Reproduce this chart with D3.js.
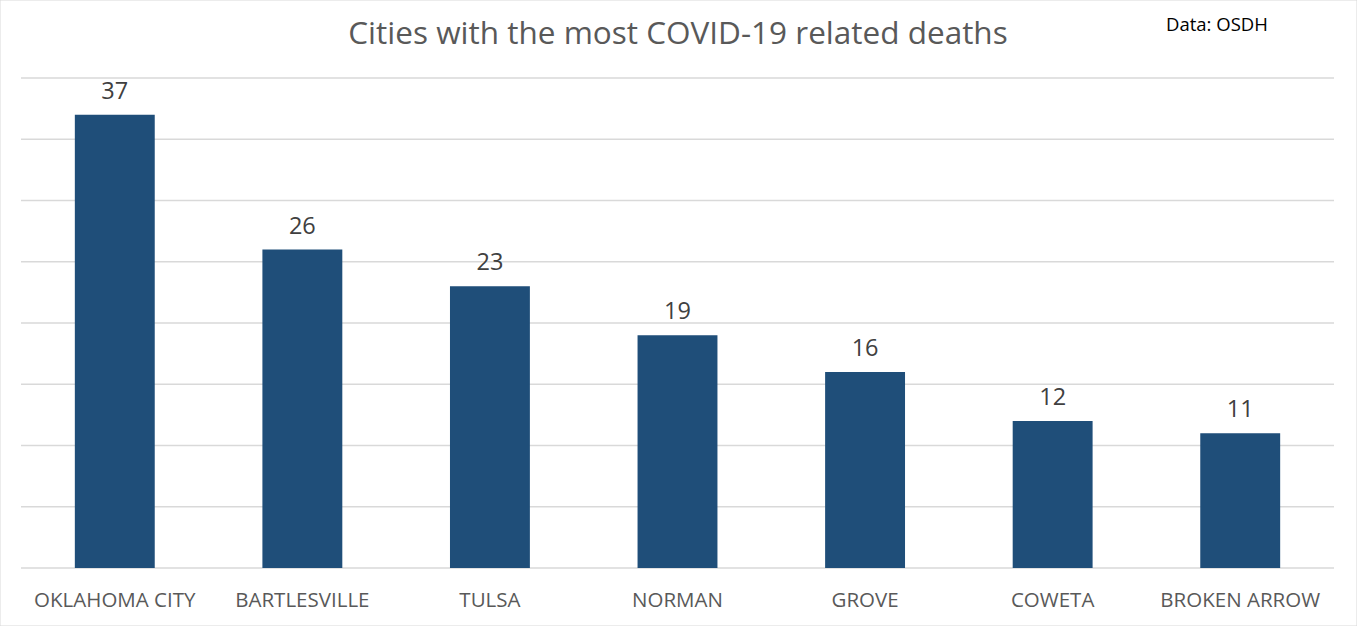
<!DOCTYPE html>
<html>
<head>
<meta charset="utf-8">
<script src="https://cdn.jsdelivr.net/npm/d3@7"></script>
<style>
  body { margin: 0; background: #fff; }
  svg { display: block; }
</style>
</head>
<body>
<script>
// cities and death counts (OSDH)
var cities = ["OKLAHOMA CITY", "BARTLESVILLE", "TULSA", "NORMAN", "GROVE", "COWETA", "BROKEN ARROW"];
var deaths = [37, 26, 23, 19, 16, 12, 11];
var yTicks = [0, 5, 10, 15, 20, 25, 30, 35, 40];

var width = 1357, height = 626;
var font = "'Open Sans', 'Noto Sans', sans-serif";

var svg = d3.select("body").append("svg")
  .attr("width", width)
  .attr("height", height);

svg.append("rect")
  .attr("width", width).attr("height", height)
  .attr("fill", "#fff")
  .attr("stroke", "#d9d9d9");

var x = d3.scaleBand()
  .domain(cities)
  .range([21, 1334])
  .paddingInner(0.574)
  .paddingOuter(0.287);

var y = d3.scaleLinear()
  .domain([0, 40])
  .range([568, 78]);

// gridlines
svg.append("g").selectAll("line")
  .data(yTicks)
  .enter().append("line")
    .attr("x1", 21).attr("x2", 1334)
    .attr("y1", function(d) { return y(d); })
    .attr("y2", function(d) { return y(d); })
    .attr("stroke", "#d9d9d9")
    .attr("stroke-width", 1.5);

// bars
var data = cities.map(function(c, i) { return {city: c, value: deaths[i]}; });

svg.append("g").selectAll("rect")
  .data(data)
  .enter().append("rect")
    .attr("x", function(d) { return x(d.city); })
    .attr("y", function(d) { return y(d.value); })
    .attr("width", x.bandwidth())
    .attr("height", function(d) { return y(0) - y(d.value); })
    .attr("fill", "#1f4e79");

// value labels
svg.append("g").selectAll("text")
  .data(data)
  .enter().append("text")
    .attr("x", function(d) { return x(d.city) + x.bandwidth() / 2; })
    .attr("y", function(d) { return y(d.value) - 16; })
    .attr("text-anchor", "middle")
    .attr("font-family", font)
    .attr("font-size", 23.5)
    .attr("fill", "#404040")
    .text(function(d) { return d.value; });

// category labels
var xAxis = svg.append("g")
  .attr("transform", "translate(0,568)")
  .call(d3.axisBottom(x).tickSize(0).tickPadding(24));
xAxis.select(".domain").remove();
xAxis.selectAll("text")
  .attr("font-family", font)
  .attr("font-size", 20.5)
  .attr("fill", "#595959");

// title
svg.append("text")
  .attr("x", 678)
  .attr("y", 44)
  .attr("text-anchor", "middle")
  .attr("font-family", font)
  .attr("font-size", 31.5)
  .attr("fill", "#595959")
  .text("Cities with the most COVID-19 related deaths");

svg.append("text")
  .attr("x", 1166)
  .attr("y", 31)
  .attr("font-family", font)
  .attr("font-size", 18.5)
  .attr("fill", "#000")
  .text("Data: OSDH");
</script>
</body>
</html>
